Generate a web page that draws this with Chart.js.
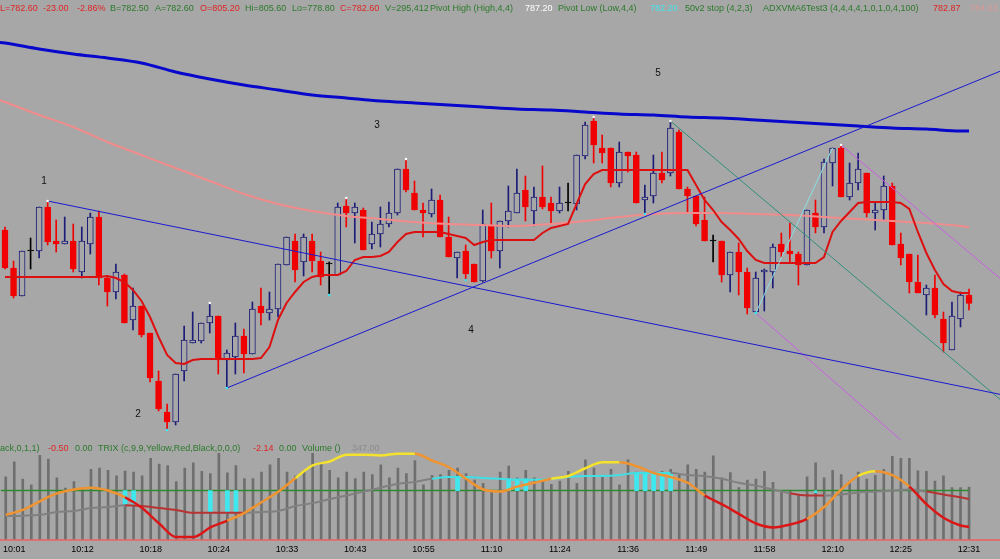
<!DOCTYPE html>
<html><head><meta charset="utf-8">
<script src="https://cdn.jsdelivr.net/npm/chart.js@4.4.1/dist/chart.umd.min.js"></script>
<style>
html,body{margin:0;padding:0;}
body{width:1000px;height:559px;overflow:hidden;position:relative;background:#a7a7a7;font-family:Arial,"Liberation Sans",sans-serif;}
canvas{position:absolute;left:0;}
.t{position:absolute;font-size:9px;line-height:12px;white-space:nowrap;}
.n{position:absolute;font-size:10px;line-height:12px;color:#111;transform:translate(-50%,-50%);}
</style></head><body>
<canvas id="main" width="1000" height="445" style="top:0"></canvas>
<canvas id="sub" width="1000" height="114" style="top:445px"></canvas>
<div id="txt"></div>
<script>
// ---------- DATA ----------
const timeLabels = ['10:01','10:12','10:18','10:24','10:33','10:43','10:55','11:10','11:24','11:36','11:49','11:58','12:10','12:25','12:31'];
const labelBars  = [1,9,17,25,33,41,49,57,65,73,81,89,97,105,113];

const open = [
784.80,783.66,782.82,784.17,784.17,785.49,784.47,784.38,784.47,783.54,
784.38,785.19,783.36,782.94,783.45,782.10,782.52,781.71,780.27,779.34,
779.04,780.57,781.41,781.47,782.01,782.22,780.90,780.99,781.62,781.08,
782.52,782.31,782.43,783.75,784.47,783.84,784.47,783.87,783.78,783.45,
785.52,785.31,785.40,784.38,784.68,784.98,785.31,786.63,785.91,785.40,
785.28,785.70,784.59,783.96,784.17,783.78,783.27,784.95,784.17,785.07,
785.31,786.00,785.37,785.79,785.61,785.37,785.61,785.58,787.02,788.07,
787.26,787.26,786.21,787.14,787.05,785.70,785.82,786.51,786.51,787.74,
786.03,785.82,785.10,784.47,784.47,783.45,784.14,783.54,782.34,783.54,
783.54,784.38,784.17,784.08,783.75,785.31,784.89,786.81,787.26,785.79,
786.21,786.51,785.31,785.40,786.12,784.38,784.08,783.24,782.85,783.06,
782.13,781.20,782.13,782.85];
const high = [
784.89,783.87,784.17,784.56,785.49,785.67,785.10,785.19,784.98,784.89,
785.31,785.37,783.42,783.78,783.48,783.06,782.52,781.71,780.57,779.58,
780.48,781.92,782.34,782.01,782.61,782.22,781.20,782.01,781.83,782.64,
783.06,782.94,783.78,784.59,784.68,784.68,784.68,784.14,783.84,785.61,
785.76,785.61,785.46,785.04,785.49,785.64,786.63,786.93,786.27,785.61,
786.03,785.85,785.19,784.14,784.35,783.78,785.40,785.61,785.07,786.12,
786.63,786.42,786.09,786.72,785.79,786.09,786.21,787.05,788.04,788.19,
787.65,787.26,787.44,787.14,787.14,786.15,787.05,787.14,788.07,787.80,
786.09,785.82,785.79,784.65,784.47,784.14,784.41,783.66,783.54,783.63,
784.38,784.71,785.01,784.14,785.40,785.70,786.93,787.26,787.35,786.81,
787.11,786.51,785.61,786.42,786.21,784.71,784.08,784.05,783.15,783.45,
782.34,782.64,782.94,783.03];
const low = [
783.63,782.76,782.82,783.63,783.96,784.35,784.14,784.38,783.54,783.36,
784.08,783.15,782.52,782.73,782.01,781.80,781.59,780.24,779.37,778.80,
778.95,780.27,781.41,781.41,781.71,780.48,780.06,780.48,780.51,781.08,
781.95,782.10,782.19,783.75,783.24,783.42,783.54,783.15,782.85,783.45,
784.89,784.41,784.20,784.23,784.29,784.89,785.25,785.94,785.40,784.59,
785.19,784.59,783.99,783.36,783.30,783.24,783.24,783.96,783.66,784.89,
785.31,785.07,784.92,785.43,784.98,785.31,785.37,785.40,786.93,786.81,
786.81,786.09,786.09,786.54,785.61,785.28,785.61,786.21,786.42,786.03,
785.31,784.92,784.47,783.84,783.24,782.94,782.85,782.28,782.31,782.37,
783.06,783.99,783.84,783.15,783.75,784.71,784.71,786.12,785.79,785.70,
786.00,785.19,784.80,785.10,784.35,783.75,782.91,782.91,782.25,782.16,
781.14,781.20,781.89,782.40];
const close = [
783.66,782.82,784.17,784.17,785.49,784.44,784.38,784.47,783.63,784.47,
785.19,783.36,782.94,783.54,782.01,782.52,781.65,780.36,779.43,779.04,
780.48,781.50,781.50,782.01,782.22,780.90,781.11,781.62,781.08,782.43,
782.31,782.43,783.78,784.59,783.60,784.59,783.87,783.39,783.78,785.49,
785.31,785.49,784.20,784.68,784.98,785.31,786.63,786.00,785.40,785.31,
785.70,784.59,783.99,784.14,783.48,783.24,784.98,784.17,785.07,785.37,
785.91,785.49,785.79,785.49,785.37,785.61,785.61,787.05,787.95,787.35,
787.11,786.21,787.14,787.02,785.61,785.79,786.51,786.30,787.86,786.03,
785.82,784.98,784.47,784.47,783.45,784.14,783.54,782.46,783.36,783.60,
784.29,784.14,784.08,783.75,785.40,784.89,786.84,787.26,785.79,786.21,
786.63,785.31,785.40,786.12,784.35,783.96,783.24,782.91,783.06,782.25,
781.41,782.22,782.85,782.60];
const volume = [
416,516,401,362,559,534,409,341,384,345,
465,474,459,422,454,448,422,538,500,491,
384,474,508,452,437,572,442,491,405,405,
448,495,538,448,422,459,572,512,459,409,
448,405,448,431,495,409,474,437,523,362,
426,431,459,474,437,394,373,320,448,487,
409,459,409,388,366,388,452,373,529,474,
426,465,362,529,448,426,448,452,465,431,
495,465,448,555,409,444,345,394,401,452,
379,320,324,298,416,508,409,459,431,388,
448,401,426,465,551,538,538,455,452,388,
422,345,345,347];
// ADXVMA-style stop line (one value per bar)
const stopLine = [
783.39,783.39,783.39,783.39,783.39,783.39,783.39,783.39,783.39,783.39,
783.39,783.39,783.42,783.36,783.24,783.00,782.67,782.19,781.59,781.05,
780.81,780.78,780.90,780.93,780.93,780.93,780.93,780.93,780.93,780.93,
780.96,781.29,782.10,782.61,782.94,783.24,783.39,783.45,783.45,783.45,
783.57,783.90,783.99,783.99,784.02,784.14,784.44,784.68,784.74,784.74,
784.74,784.74,784.68,784.62,784.56,784.35,784.44,784.50,784.50,784.50,
784.50,784.50,784.50,784.71,784.86,784.92,784.98,785.58,786.18,786.48,
786.60,786.60,786.60,786.60,786.60,786.60,786.60,786.60,786.60,786.60,
786.60,786.15,785.70,785.40,785.04,784.80,784.53,784.17,783.90,783.81,
783.81,783.81,783.81,783.81,783.81,783.81,783.99,784.74,785.07,785.34,
785.61,785.64,785.64,785.64,785.64,785.61,785.43,784.74,784.11,783.60,
783.18,782.97,782.91,782.91];
// moving averages (sampled every 4 bars)
const maIdx   = [-1,0,4,8,12,16,20,24,28,32,36,40,44,48,52,56,60,64,68,72,76,80,84,88,92,96,100,104,108,112,113];
const slowMA  = [790.44,790.41,790.23,790.08,789.96,789.81,789.54,789.33,789.15,789.00,788.85,788.76,788.67,788.61,788.55,788.49,788.43,788.40,788.34,788.28,788.25,788.19,788.16,788.10,788.04,787.98,787.92,787.86,787.83,787.77,787.77];
const midMA   = [788.73,788.64,788.25,787.89,787.44,787.05,786.66,786.27,785.88,785.58,785.37,785.22,785.13,785.04,784.98,784.95,784.92,784.98,785.07,785.19,785.28,785.31,785.31,785.28,785.25,785.19,785.13,785.07,785.01,784.92,784.89];
// pivots
const pivotHighIdx = [5,24,40,47,69,78,98];
const pivotLowIdx  = [19,26,38,54,75,88];
// trend lines [bar, price]
const downLine  = [[5,785.67],[117,779.85]];
const upLine    = [[26,780.06],[117,789.60]];
const tealLine  = [[78,788.07],[117,779.64]];
const violetA   = [[98,787.35],[117,783.27]];
const violetB   = [[88,782.31],[105,778.50]];
const cyanLine  = [[88,782.31],[97,787.26]];
// lower panel: oscillators sampled every 2 bars
const oscIdx = [0,2,4,6,8,10,12,14,16,18,20,22,24,26,28,30,32,34,36,38,40,42,44,46,48,50,52,54,56,58,60,62,64,66,68,70,72,74,76,78,80,82,84,86,88,90,92,94,96,98,100,102,104,106,108,110,112,113];
const trix = [-1.43,-1.14,-0.63,-0.17,0.06,0.17,0.00,-0.40,-1.03,-1.94,
 -2.74,-2.74,-2.17,-1.77,-1.31,-0.69,-0.06,0.74,1.48,1.71,
 2.11,2.11,2.06,2.17,2.17,1.77,1.37,0.69,0.06,-0.06,
 0.23,0.46,0.69,0.86,1.31,1.66,1.66,1.43,1.03,0.80,
 0.46,-0.29,-0.80,-1.37,-1.94,-2.17,-2.00,-1.66,-0.97,0.06,
 0.86,1.14,0.91,0.23,-0.80,-1.60,-2.06,-2.14];
const signalLine = [-1.50,-1.48,-1.43,-1.26,-1.20,-1.03,-0.97,-0.86,-0.91,-1.03,
 -1.14,-1.31,-1.31,-1.31,-1.31,-1.26,-1.20,-0.91,-0.74,-0.51,
 -0.29,-0.06,0.17,0.40,0.51,0.69,0.80,0.80,0.74,0.69,
 0.63,0.63,0.69,0.80,0.86,0.86,0.91,1.03,1.03,1.03,
 0.91,0.84,0.69,0.46,0.29,0.06,-0.17,-0.29,-0.29,-0.23,
 -0.11,-0.06,0.00,0.06,-0.06,-0.23,-0.40,-0.50];
const cyanBarIdx = [14,15,24,26,27,53,59,60,61,74,75,76,77,78];
const cyanBarVal = [-0.86,-0.88,-1.31,-1.31,-1.31,0.78,0.69,0.69,0.69,0.97,0.97,0.97,0.97,0.97];
const cyanDotIdx = [95];
const cyanDotVal = [-0.06];

// ---------- STYLE ----------
const BG='#a7a7a7', NAVY='#1c1c78', RED='#f00000', BLACK='#000000';
const X_MIN=-0.586, X_MAX=116.63;
const FONT='Arial, "Liberation Sans", sans-serif';

const bars = open.map((_, i) => i);
const kind = i => close[i] > open[i] ? 1 : (close[i] < open[i] ? -1 : 0);
const lineCol = i => kind(i) > 0 ? NAVY : (kind(i) < 0 ? RED : BLACK);
const fillCol = i => kind(i) > 0 ? BG : (kind(i) < 0 ? RED : BLACK);
const pts = (ix, vals) => ix.map((x, k) => ({x, y: vals[k]}));
const seg = arr => arr.map(p => ({x: p[0], y: p[1]}));
const thin = (data, color, w) => ({type:'line', data, borderColor:color, borderWidth:w||1, pointRadius:0, order:5});

new Chart(document.getElementById('main'), {
  type: 'bar',
  data: { datasets: [
    {type:'bar', data: bars.map(i => ({x:i, y:[low[i], high[i]]})), backgroundColor: bars.map(lineCol), barThickness:1, grouped:false, order:20},
    {type:'bar', data: bars.map(i => ({x:i, y:[open[i], close[i]]})), backgroundColor: bars.map(fillCol), borderColor: bars.map(lineCol), borderWidth:1, borderSkipped:false, barThickness:6, minBarLength:1, grouped:false, order:19},
    {type:'line', data: pts(maIdx, midMA), borderColor:'#f28c8c', borderWidth:2, pointRadius:0, cubicInterpolationMode:'monotone', order:8},
    {type:'line', data: pts(maIdx, slowMA), borderColor:'#0808cc', borderWidth:3, pointRadius:0, cubicInterpolationMode:'monotone', order:7},
    {type:'line', data: pts(bars, stopLine), borderColor:'#dc1010', borderWidth:2, pointRadius:0, order:6},
    thin(seg(downLine), '#1a1ad0'),
    thin(seg(upLine), '#1a1ad0'),
    thin(seg(tealLine), '#2f8f7c'),
    thin(seg(violetA), '#c860e0'),
    thin(seg(violetB), '#c860e0'),
    thin(seg(cyanLine), '#8ae0e8'),
    {type:'line', data: pivotHighIdx.map(i => ({x:i, y:high[i]})), showLine:false, pointStyle:'rect', pointRadius:1.6, backgroundColor:'#ffffff', borderColor:'#ffffff', borderWidth:0, order:1},
    {type:'line', data: pivotLowIdx.map(i => ({x:i, y:low[i]})), showLine:false, pointStyle:'rect', pointRadius:1.6, backgroundColor:'#30e8f0', borderColor:'#30e8f0', borderWidth:0, order:1}
  ]},
  options: {
    responsive:false, animation:false, devicePixelRatio:1, events:[],
    layout:{padding:0, autoPadding:false},
    plugins:{legend:{display:false}, tooltip:{enabled:false}},
    scales:{
      x:{type:'linear', min:X_MIN, max:X_MAX, display:false, offset:false, grid:{offset:false}},
      y:{type:'linear', min:778.35, max:791.70, display:false}
    }
  }
});

const T_YEL='#f4e22c', T_ORG='#ef9430', T_RED='#dc1616';
function trixColor(v0, v1){
  if (v1 >= v0 - 0.1) { if (v0 < -1.9) return T_RED; if (v0 < 0.6) return T_ORG; return T_YEL; }
  return v1 < -0.7 ? T_RED : T_ORG;
}
function sigColor(v0, v1){
  if (v0 > 0.6 && v1 > 0.6 && v1 >= v0 - 0.07) return '#3ee0e6';
  if (v1 <= v0 && v0 < 0) return '#b83232';
  return '#808080';
}

new Chart(document.getElementById('sub'), {
  type: 'bar',
  data: { datasets: [
    {type:'bar', yAxisID:'yv', data: pts(bars, volume), backgroundColor:'#6f6f6f', barThickness:2, grouped:false, order:20},
    {type:'line', yAxisID:'yo', data:[{x:-0.6,y:0},{x:113,y:0}], borderColor:'#2f8a2f', borderWidth:1.5, pointRadius:0, order:10},
    {type:'bar', yAxisID:'yo', data: cyanBarIdx.map((x,k) => ({x, y:[0, cyanBarVal[k]]})), backgroundColor:'#3ee8ee', barThickness:4, grouped:false, order:9},
    {type:'line', yAxisID:'yo', data: pts(oscIdx, signalLine), borderWidth:2, pointRadius:0, cubicInterpolationMode:'monotone',
      segment:{borderColor: c => sigColor(c.p0.parsed.y, c.p1.parsed.y)}, order:4},
    {type:'line', yAxisID:'yo', data: pts(oscIdx, trix), borderWidth:2.5, pointRadius:0, cubicInterpolationMode:'monotone',
      segment:{borderColor: c => trixColor(c.p0.parsed.y, c.p1.parsed.y)}, order:3},
    {type:'line', yAxisID:'yo', data: pts(cyanDotIdx, cyanDotVal), showLine:false, pointStyle:'rect', pointRadius:2, backgroundColor:'#3ee8ee', borderWidth:0, order:1}
  ]},
  options: {
    responsive:false, animation:false, devicePixelRatio:1, events:[],
    layout:{padding:0, autoPadding:false},
    plugins:{legend:{display:false}, tooltip:{enabled:false}},
    scales:{
      x:{type:'linear', min:X_MIN, max:X_MAX, offset:false,
         afterBuildTicks: s => { s.ticks = labelBars.map(v => ({value:v})); },
         ticks:{autoSkip:false, maxRotation:0, minRotation:0, padding:3, color:'#000',
                font:{family:FONT, size:9, lineHeight:1.5},
                callback:(v, k) => timeLabels[k]},
         grid:{display:false, drawTicks:false, offset:false},
         border:{display:true, color:'#e07070', width:2}},
      yo:{type:'linear', position:'left', min:-2.88, max:2.68, display:false},
      yv:{type:'linear', position:'right', min:0, max:627, display:false}
    }
  }
});

// ---------- TEXT ----------
const G='#2c7a2c', R='#e02424';
const header = [
 ['L=782.60',0,R],['-23.00',43,R],['-2.86%',77,R],['B=782.50',110,G],['A=782.60',155,G],['O=805.20',200,R],
 ['Hi=805.60',245,G],['Lo=778.80',292,G],['C=782.60',340,R],['V=295,412',385,G],['Pivot High (High,4,4)',430,G],
 ['787.20',525,'#ffffff'],['Pivot Low (Low,4,4)',558,G],['782.20',650,'#44e4f0'],['50v2 stop (4,2,3)',685,G],
 ['ADXVMA6Test3 (4,4,4,4,1,0,1,0,4,100)',763,G],['782.87',933,R],['784.03',970,'#d99a9a']
];
const subHeader = [
 ['ack,0,1,1)',0,G],['-0.50',48,R],['0.00',75,G],['TRIX (c,9,9,Yellow,Red,Black,0,0,0)',98,G],
 ['-2.14',253,R],['0.00',279,G],['Volume ()',302,G],['347.00',352,'#8c8c8c']
];
const marks = [['1',44,181],['2',138,414],['3',377,125],['4',471,330],['5',658,73]];
const box = document.getElementById('txt');
header.forEach(([t,x,c]) => { const d=document.createElement('div'); d.className='t'; d.textContent=t; d.style.left=x+'px'; d.style.top='2px'; d.style.color=c; box.appendChild(d); });
subHeader.forEach(([t,x,c]) => { const d=document.createElement('div'); d.className='t'; d.textContent=t; d.style.left=x+'px'; d.style.top='442px'; d.style.color=c; box.appendChild(d); });
marks.forEach(([t,x,y]) => { const d=document.createElement('div'); d.className='n'; d.textContent=t; d.style.left=x+'px'; d.style.top=y+'px'; box.appendChild(d); });
</script>
</body></html>
